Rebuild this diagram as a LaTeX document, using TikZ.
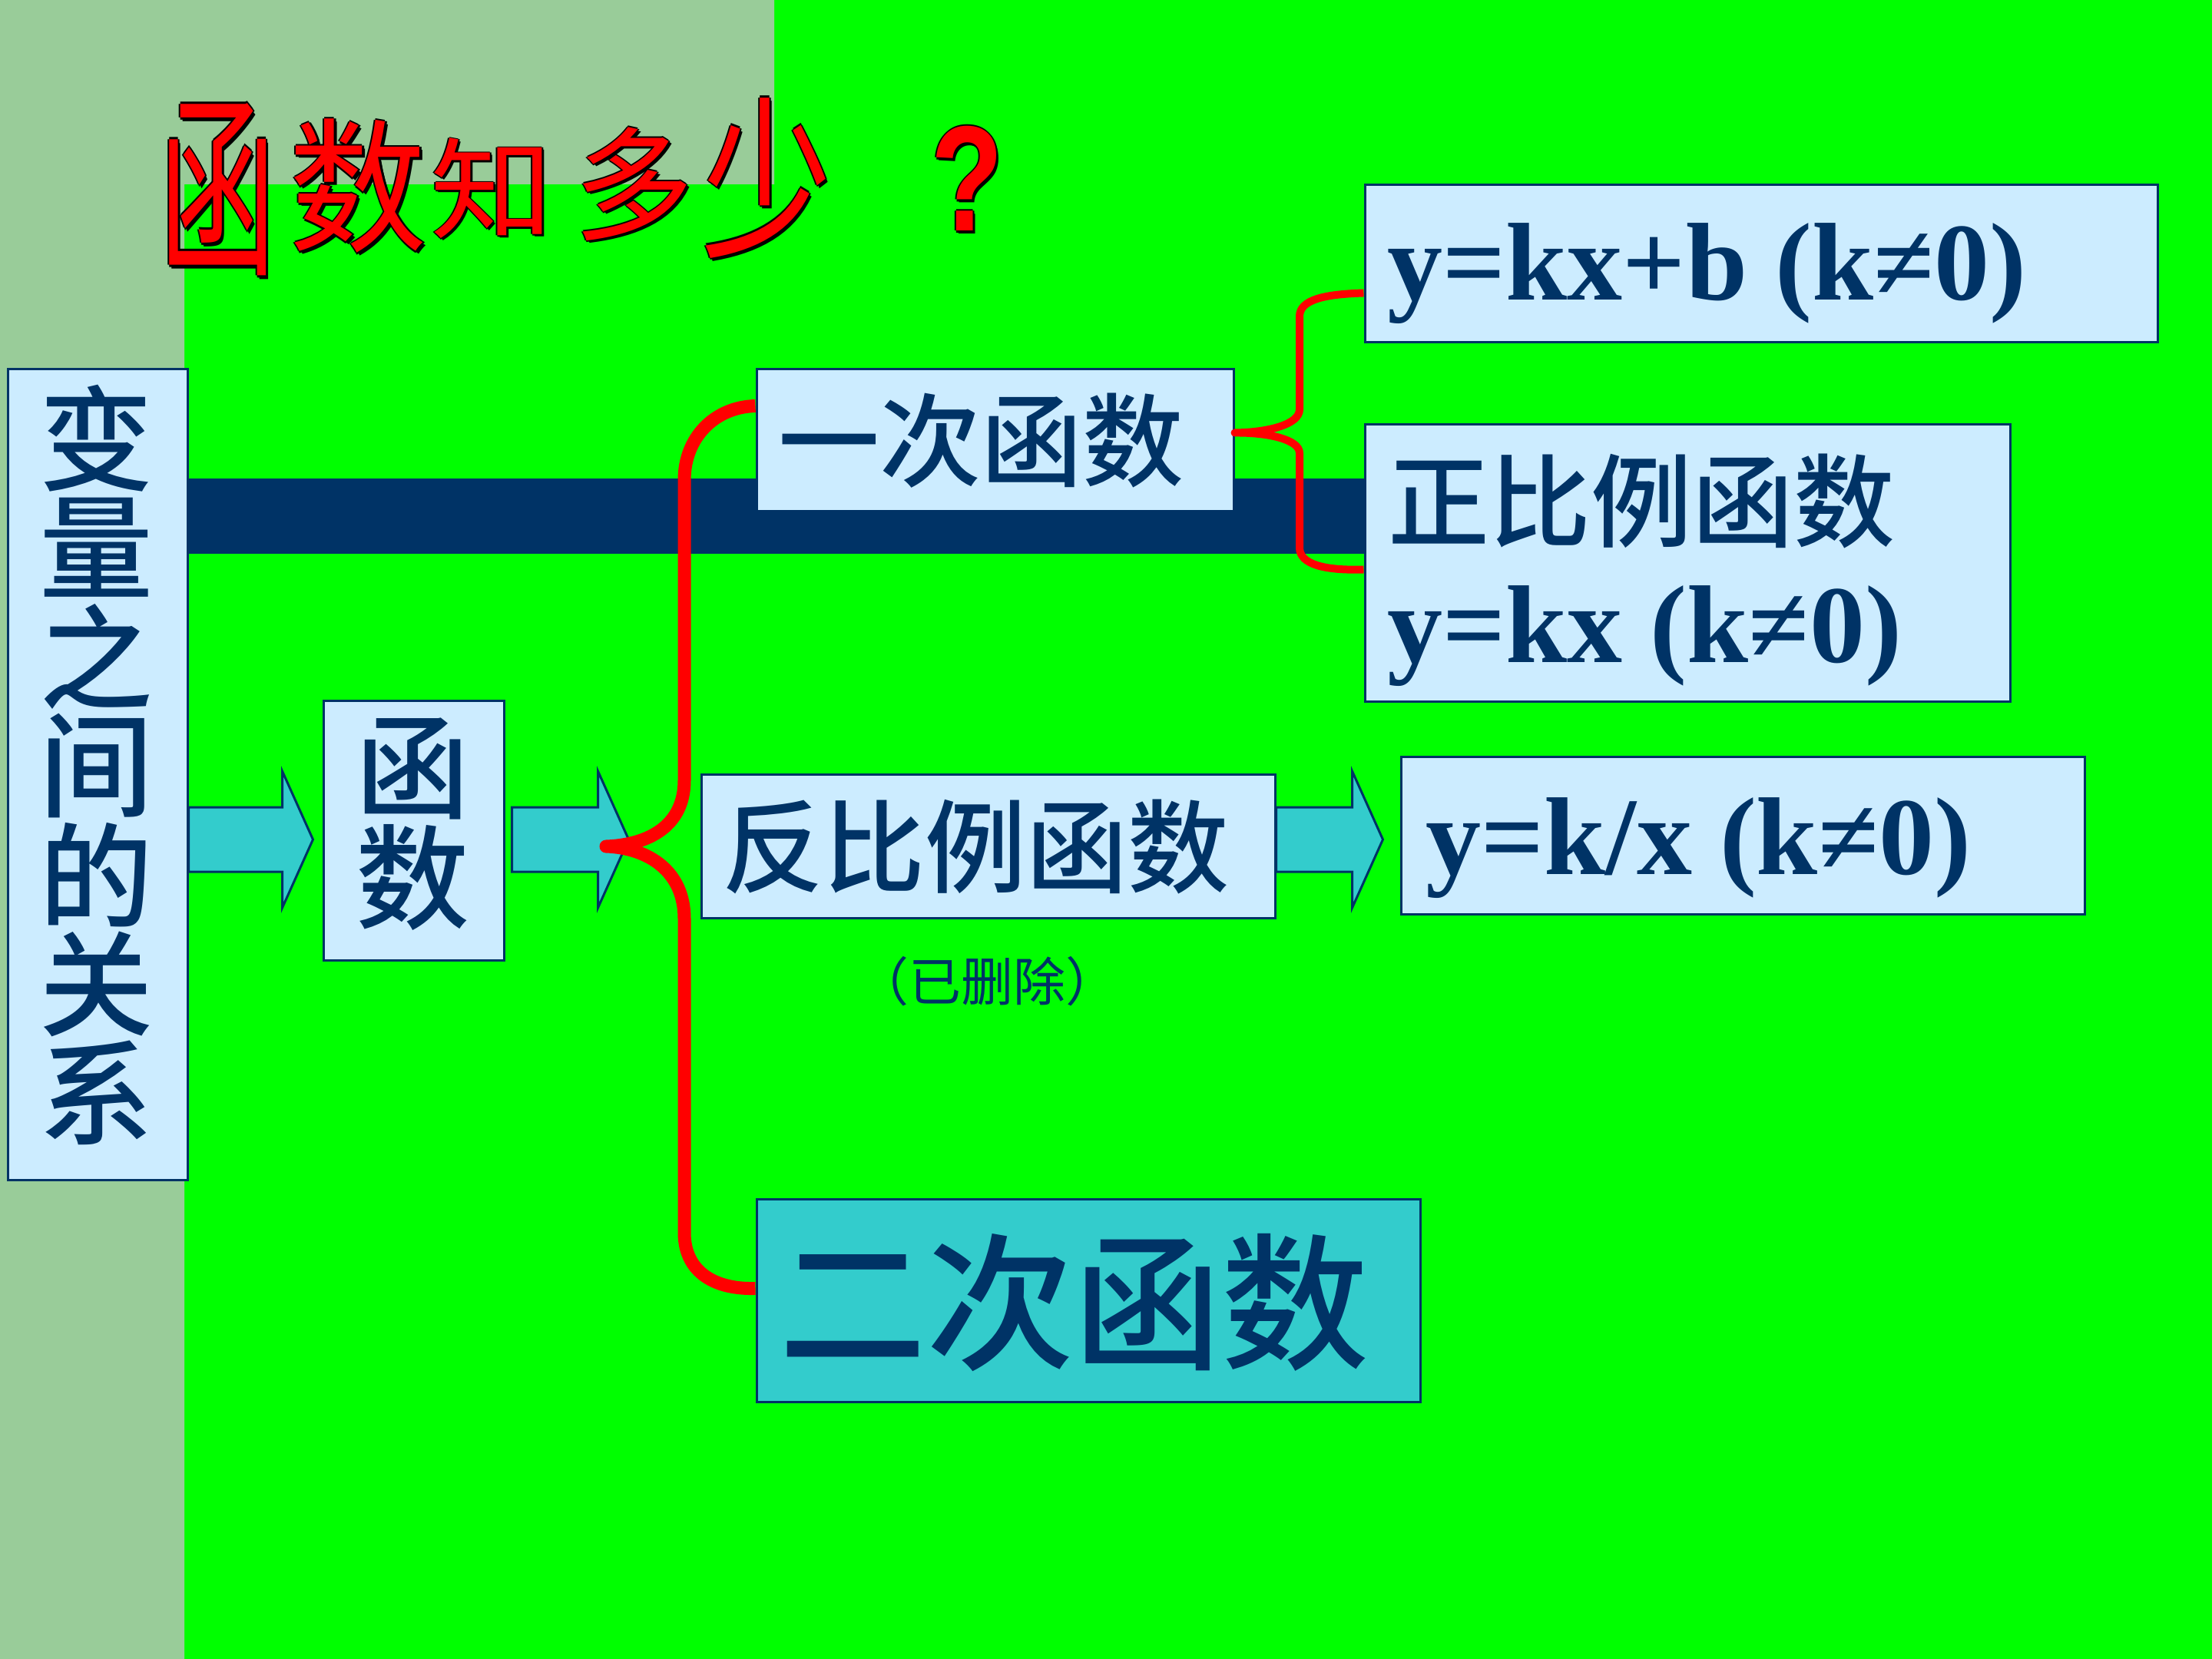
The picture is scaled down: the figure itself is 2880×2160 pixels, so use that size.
\documentclass[tikz,border=0pt]{standalone}
\usepackage{fontspec}
\usepackage{graphicx}
\setmainfont{Liberation Serif}
\newfontfamily\cjk{Noto Sans CJK SC}
\newfontfamily\cjkm{Noto Sans CJK SC Medium}
\newfontfamily\qsans{Liberation Sans}
\usetikzlibrary{calc,fit}
\definecolor{bg}{HTML}{00FF00}
\definecolor{sage}{HTML}{99CC99}
\definecolor{navy}{HTML}{003366}
\definecolor{lblue}{HTML}{CCECFF}
\definecolor{teal2}{HTML}{33CCCC}
\newsavebox\olbox
\newcommand\olt[1]{\setbox\olbox\hbox{#1}%
 \rlap{\textcolor{black}{\kern0.5pt\usebox\olbox}}%
 \rlap{\textcolor{black}{\kern-0.5pt\usebox\olbox}}%
 \rlap{\textcolor{black}{\raisebox{0.5pt}{\usebox\olbox}}}%
 \rlap{\textcolor{black}{\raisebox{-0.5pt}{\usebox\olbox}}}%
 \rlap{\textcolor{black}{\kern0.8pt\raisebox{-0.8pt}{\usebox\olbox}}}%
 \textcolor{red}{\usebox\olbox}}
\newcommand\myblockarrow[2]{%
 \draw[blk] ($(#1)+(0,-42)$) -- ($(#2)+(-40,-42)$) -- ($(#2)+(-40,-89)$) -- (#2)
   -- ($(#2)+(-40,89)$) -- ($(#2)+(-40,42)$) -- ($(#1)+(0,42)$) -- cycle;}
\tikzset{
 box/.style={draw=navy, line width=0.75pt, fill=lblue, inner sep=0pt},
 cjkt/.style={font=\cjkm\fontsize{33}{36}\selectfont, text=navy, inner sep=0pt, anchor=west},
 cjkv/.style={font=\cjkm\fontsize{37}{40}\selectfont, text=navy, inner sep=0pt},
 latt/.style={font=\bfseries\fontsize{36}{40}\selectfont, text=navy, inner sep=0pt, anchor=base west},
 blk/.style={fill=teal2, draw=navy, line width=0.75pt, line join=miter},
 brace/.style={draw=red, line join=round, line cap=butt},
 titlec/.style={font=\cjk\fontsize{40}{44}\selectfont, inner sep=0pt},
}
\begin{document}
\begin{tikzpicture}[x=0.25pt, y=-0.25pt]
\useasboundingbox (0,0) rectangle (2880,2160);
% background
\fill[bg] (0,0) rectangle (2880,2160);
\fill[sage] (0,0) -- (1008,0) -- (1008,240) -- (240,240) -- (240,2160) -- (0,2160) -- cycle;
% title
\node[titlec] (ti1) at (283.5,247.5) {\scalebox{0.95}[1.59]{\olt{函}}};
\node[titlec] (ti2) at (466.5,243) {\scalebox{1.12}[1.18]{\olt{数}}};
\node[titlec] (ti3) at (640.5,246) {\scalebox{1.0}[0.89]{\olt{知}}};
\node[titlec] (ti4) at (825.5,240) {\scalebox{0.97}[1.0]{\olt{多}}};
\node[titlec] (ti5) at (998,232.5) {\scalebox{1.06}[1.42]{\olt{少}}};
\node[inner sep=0pt, font=\qsans\bfseries\fontsize{40}{44}\selectfont] (ti6) at (1259,233.5) {\scalebox{0.96}[1.22]{\olt{?}}};
% navy bar
\fill[navy] (244,623) rectangle (1777,721);
% boxes
\node[box, fit={(10,481) (244,1536)}] (lbox) {};
\node[box, fit={(421,913) (656,1250)}] (fbox) {};
\node[box, fit={(985,481) (1606,666)}] (b1) {};
\node[box, fit={(1777,241) (2809,446)}] (bkb) {};
\node[box, fit={(1777,553) (2617,914)}] (bzb) {};
\node[box, fit={(913,1008) (1660,1195)}] (bfb) {};
\node[box, fit={(1824,985) (2714,1190)}] (bkx) {};
\node[box, fill=teal2, fit={(985,1561) (1849,1825)}] (b2) {};
% texts
\foreach \c [count=\i] in {变,量,之,间,的,关,系}
  \node[cjkv] (lv\i) at (125,{571+142*(\i-1)}) {\c};
\node[cjkv] (fv1) at (537,1001) {函};
\node[cjkv] (fv2) at (537,1142) {数};
\node[cjkt] (t1) at (1013,574) {一次函数};
\node[latt] (tkb) at (1806,391) {y=kx+b (k≠0)};
\node[cjkt] (tz1) at (1807,653) {正比例函数};
\node[latt] (tz2) at (1806,862) {y=kx (k≠0)};
\node[cjkt] (tf) at (940,1103) {反比例函数};
\node[latt] (tkx) at (1856,1138) {y=k/x (k≠0)};
\node[cjkt, font=\cjkm\fontsize{48}{52}\selectfont] (t2) at (1014,1696) {二次函数};
\node[font=\cjk\fontsize{17}{20}\selectfont, text=navy, inner sep=0pt] (del) at (1285,1278) {（已删除）};
% arrows
\coordinate (arow) at (0,1093);
\coordinate (a1s) at (lbox.east |- arow);
\coordinate (a1t) at ($(fbox.west |- arow)+(-12,0)$);
\coordinate (a2s) at ($(fbox.east |- arow)+(9,0)$);
\coordinate (a2t) at ($(bfb.west |- arow)+(-93,0)$);
\coordinate (a3s) at (bfb.east |- arow);
\coordinate (a3t) at ($(bkx.west |- arow)+(-22,0)$);
\myblockarrow{a1s}{a1t}
\myblockarrow{a2s}{a2t}
\myblockarrow{a3s}{a3t}
% big brace
\coordinate (bp) at (789,1102);
\coordinate (bt) at ($(b1.north west)+(0,49)$);
\coordinate (bb) at ($(b2.north west)+(0,118)$);
\draw[brace, line width=4.25pt] (bt) .. controls (930,530) and (891,570) .. (891,625)
  -- (891,1016) .. controls (891,1075) and (845,1100) .. (bp)
  .. controls (845,1104) and (891,1135) .. (891,1196)
  -- (891,1605) .. controls (891,1652) and (925,1679) .. (bb);
% small brace
\coordinate (sp) at ($(b1.east)+(0,-10)$);
\coordinate (st) at ($(bkb.north west)+(0,142)$);
\coordinate (sb) at ($(bzb.north west)+(0,190)$);
\draw[brace, line width=2.5pt] (st) .. controls (1725,383) and (1692,390) .. (1692,412)
  -- (1692,533) .. controls (1692,553) and (1650,563) .. (sp)
  .. controls (1650,563) and (1692,572) .. (1692,590)
  -- (1692,713) .. controls (1692,735) and (1725,743) .. (sb);
\end{tikzpicture}
\end{document}
